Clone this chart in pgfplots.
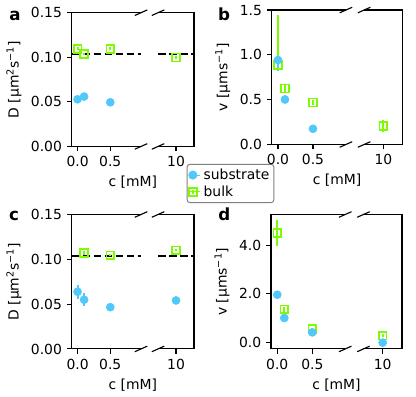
\documentclass[border=0pt]{standalone}
\usepackage{fontspec}
\setmainfont{DejaVu Sans}
\usepackage{pgfplots}
\usepackage{pgfplotstable}
\pgfplotsset{compat=1.18}
\definecolor{cblue}{RGB}{80,200,250}
\definecolor{cgreen}{RGB}{124,252,0}

% x positions: 0, 0.1, 0.5 as is; 10 mM plotted at 1.505 (broken axis)
\pgfplotstableread{
x y e
0 0.0529 0.0015
0.1 0.0559 0.0015
0.5 0.0495 0.0010
}\subA
\pgfplotstableread{
x y e
0 0.1095 0.0015
0.1 0.1035 0.0015
0.5 0.1095 0.0015
1.505 0.0997 0.0015
}\bulkA
\pgfplotstableread{
x y ep em
0 0.942 0.03 0.12
0.1 0.502 0.05 0.03
0.5 0.175 0.015 0.015
}\subB
\pgfplotstableread{
x y ep em
0 0.886 0.558 0.05
0.1 0.625 0.04 0.04
0.5 0.469 0.03 0.03
1.505 0.205 0.07 0.07
}\bulkB
\pgfplotstableread{
x y e
0 0.0638 0.0080
0.1 0.0549 0.0070
0.5 0.0466 0.0010
1.505 0.0541 0.0010
}\subC
\pgfplotstableread{
x y e
0.1 0.1071 0.0020
0.5 0.1045 0.0010
1.505 0.1100 0.0010
}\bulkC
\pgfplotstableread{
x y e
0 1.966 0.05
0.1 1.010 0.05
0.5 0.420 0.03
1.505 0.000 0.02
}\subD
\pgfplotstableread{
x y e
0 4.505 0.52
0.1 1.365 0.10
0.5 0.560 0.05
1.505 0.287 0.05
}\bulkD

\pgfplotsset{
 brk/.style={
  scale only axis, clip=false,
  xmin=-0.09, xmax=1.78,
  xtick={0,0.5,1.505}, xticklabels={0.0,0.5,10},
  axis line style={draw=none},
  tick pos=left, tick align=outside,
  major tick length=3.5pt,
  every tick/.style={black, line width=0.8pt},
  tick label style={font=\fontsize{10}{12}\selectfont},
  label style={font=\fontsize{10}{12}\selectfont},
  /pgf/number format/assume math mode=true,
  scaled y ticks=false,
  xlabel={c [mM]},
 },
 subm/.style={only marks, mark=*, color=cblue, mark size=2.9pt},
 blkm/.style={only marks, mark=square, color=cgreen, mark size=2.8pt, mark options={line width=1.2pt, fill=none}},
 eb/.style={error bars/.cd, y dir=both, y explicit, error mark=none, error bar style={line width=1.5pt,#1}, /pgfplots/.cd},
}
\newcommand{\brkspines}{%
 \draw[line width=0.8pt] (rel axis cs:0.5668,0) -- (rel axis cs:0,0) -- (rel axis cs:0,1) -- (rel axis cs:0.5668,1);
 \draw[line width=0.8pt] (rel axis cs:0.7059,0) -- (rel axis cs:1,0) -- (rel axis cs:1,1) -- (rel axis cs:0.7059,1);
 \draw[line width=0.8pt] ([shift={(-4.5pt,-2pt)}]rel axis cs:0.5668,0) -- ([shift={(4.5pt,2pt)}]rel axis cs:0.5668,0);
 \draw[line width=0.8pt] ([shift={(-4.5pt,-2pt)}]rel axis cs:0.7059,0) -- ([shift={(4.5pt,2pt)}]rel axis cs:0.7059,0);
 \draw[line width=0.8pt] ([shift={(-4.5pt,-2pt)}]rel axis cs:0.5668,1) -- ([shift={(4.5pt,2pt)}]rel axis cs:0.5668,1);
 \draw[line width=0.8pt] ([shift={(-4.5pt,-2pt)}]rel axis cs:0.7059,1) -- ([shift={(4.5pt,2pt)}]rel axis cs:0.7059,1);
}

\begin{document}
\begin{tikzpicture}
\useasboundingbox (0,0) rectangle (299.52pt,285.84pt);

% panel a
\begin{axis}[brk, at={(51.6pt,180.4pt)}, anchor=south west, width=88.1pt, height=96.3pt,
  ymin=0, ymax=0.15, ytick={0,0.05,0.1,0.15},
  yticklabel style={/pgf/number format/.cd, fixed, fixed zerofill, precision=2},
  ylabel={D [µm\textsuperscript{2}s\textsuperscript{−1}]},
  legend style={at={(axis description cs:0.94,-0.13)}, anchor=north west, draw=black!50, line width=0.7pt, rounded corners=2pt,
    fill=white, font=\fontsize{10}{12}\selectfont, inner sep=1.2pt, row sep=-1pt, cells={anchor=west}},
  ]
\addplot[black, dashed, line width=1.5pt, dash pattern=on 5.5pt off 2.4pt, forget plot] coordinates {(-0.09,0.104) (0.97,0.104)};
\addplot[black, dashed, line width=1.5pt, dash pattern=on 5.5pt off 2.4pt, forget plot] coordinates {(1.23,0.104) (1.78,0.104)};
\addplot[forget plot, blkm, eb=cgreen] table[x=x,y=y,y error=e]{\bulkA};
\addplot[forget plot, subm, eb=cblue] table[x=x,y=y,y error=e]{\subA};
\addlegendimage{subm, legend image code/.code={\path (0.08cm,0) -- (0.34cm,0); \draw[cblue,line width=1.5pt] (0.15cm,-0.1cm)--(0.15cm,0.1cm); \draw[cblue, mark=*, mark size=2.9pt, only marks] plot coordinates {(0.15cm,0cm)};}}
\addlegendentry{substrate}
\addlegendimage{blkm, legend image code/.code={\path (0.08cm,0) -- (0.34cm,0); \draw[cgreen,line width=1.5pt] (0.15cm,-0.06cm)--(0.15cm,0.06cm); \draw[cgreen, mark=square, mark size=2.8pt, mark options={line width=1.2pt, fill=none}, only marks] plot coordinates {(0.15cm,0cm)};}}
\addlegendentry{bulk}
\brkspines
\end{axis}

% panel b
\begin{axis}[brk, at={(195.6pt,181.8pt)}, anchor=south west, width=94.3pt, height=96.8pt,
  ymin=0, ymax=1.5, ytick={0,0.5,1,1.5},
  yticklabel style={/pgf/number format/.cd, fixed, fixed zerofill, precision=1},
  ylabel={v [µms\textsuperscript{−1}]},
  ]
\addplot[blkm, eb=cgreen] table[x=x,y=y,y error plus=ep,y error minus=em]{\bulkB};
\addplot[subm, eb=cblue] table[x=x,y=y,y error plus=ep,y error minus=em]{\subB};
\brkspines
\end{axis}

% panel c
\begin{axis}[brk, at={(51.6pt,34.6pt)}, anchor=south west, width=88.1pt, height=96.8pt,
  ymin=0, ymax=0.15, ytick={0,0.05,0.1,0.15},
  yticklabel style={/pgf/number format/.cd, fixed, fixed zerofill, precision=2},
  ylabel={D [µm\textsuperscript{2}s\textsuperscript{−1}]},
  ]
\addplot[black, dashed, line width=1.5pt, dash pattern=on 5.5pt off 2.4pt] coordinates {(-0.09,0.104) (0.97,0.104)};
\addplot[black, dashed, line width=1.5pt, dash pattern=on 5.5pt off 2.4pt] coordinates {(1.23,0.104) (1.78,0.104)};
\addplot[blkm, eb=cgreen] table[x=x,y=y,y error=e]{\bulkC};
\addplot[subm, eb=cblue] table[x=x,y=y,y error=e]{\subC};
\brkspines
\end{axis}

% panel d
\begin{axis}[brk, at={(195.1pt,34.6pt)}, anchor=south west, width=94.3pt, height=96.8pt,
  ymin=-0.26, ymax=5.26, ytick={0,2,4},
  yticklabel style={/pgf/number format/.cd, fixed, fixed zerofill, precision=1},
  ylabel={v [µms\textsuperscript{−1}]},
  ]
\addplot[blkm, eb=cgreen] table[x=x,y=y,y error=e]{\bulkD};
\addplot[subm, eb=cblue] table[x=x,y=y,y error=e]{\subD};
\brkspines
\end{axis}

\node[font=\bfseries\fontsize{12}{14}\selectfont, anchor=base] at (10.8pt,271.4pt) {a};
\node[font=\bfseries\fontsize{12}{14}\selectfont, anchor=base] at (161.3pt,271.4pt) {b};
\node[font=\bfseries\fontsize{12}{14}\selectfont, anchor=base] at (10.1pt,127.4pt) {c};
\node[font=\bfseries\fontsize{12}{14}\selectfont, anchor=base] at (161.6pt,126.9pt) {d};
\end{tikzpicture}
\end{document}
